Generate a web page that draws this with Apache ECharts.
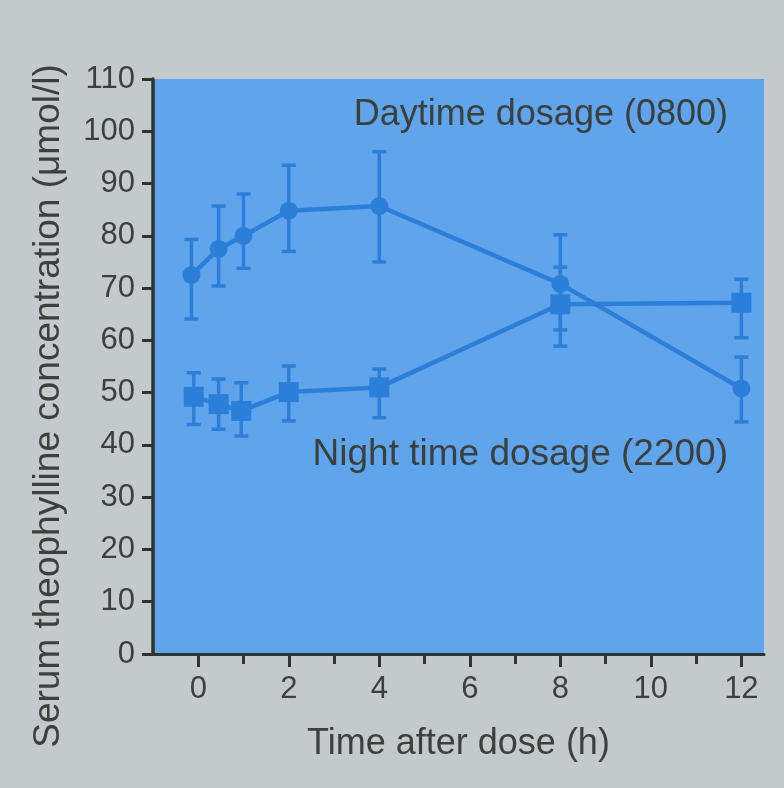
<!DOCTYPE html>
<html>
<head>
<meta charset="utf-8">
<script src="https://cdn.jsdelivr.net/npm/echarts@6/dist/echarts.min.js"></script>
<style>
  html, body { margin: 0; padding: 0; background: #c4cacb; }
  #chart { width: 784px; height: 788px; }
</style>
</head>
<body>
<div id="chart"></div>
<script>
// x tick values
var xMajorTicks = [0, 2, 4, 6, 8, 10, 12];
var xMinorTicks = [1, 3, 5, 7, 9, 11];

// daytime dosage (0800)
var dayTime = [-0.15, 0.45, 1, 2, 4, 8, 12];
var dayMean = [72.5, 77.5, 80, 84.8, 85.7, 70.8, 50.8];
var dayLow  = [64.1, 70.4, 73.8, 77, 75, 62, 44.4];
var dayHigh = [79.3, 85.7, 88, 93.5, 96.1, 80.2, 56.8];

// night time dosage (2200)
var nightTime = [-0.1, 0.45, 0.95, 2, 4, 8, 12];
var nightMean = [49.2, 47.8, 46.5, 50.1, 51, 66.9, 67.2];
var nightLow  = [43.9, 43, 41.7, 44.6, 45.2, 58.9, 60.5];
var nightHigh = [53.8, 52.6, 51.9, 55.1, 54.5, 74, 71.7];

var blue = '#2b7fd8';
var ink = '#3b403c';
var axisInk = '#2f3430';
var font = "'Liberation Sans', Arial, sans-serif";

function pairs(xs, ys) {
    return xs.map(function (x, i) { return [x, ys[i]]; });
}
function bars(xs, lo, hi) {
    return xs.map(function (x, i) { return [x, lo[i], hi[i]]; });
}

function errorBar(params, api) {
    var top = api.coord([api.value(0), api.value(2)]);
    var bot = api.coord([api.value(0), api.value(1)]);
    var w = 7;
    var st = {stroke: blue, lineWidth: 3.5};
    return {
        type: 'group',
        children: [
            {type: 'line', shape: {x1: top[0], y1: top[1], x2: bot[0], y2: bot[1]}, style: st},
            {type: 'line', shape: {x1: top[0] - w, y1: top[1], x2: top[0] + w, y2: top[1]}, style: st},
            {type: 'line', shape: {x1: bot[0] - w, y1: bot[1], x2: bot[0] + w, y2: bot[1]}, style: st}
        ]
    };
}

var chart = echarts.init(document.getElementById('chart'));
chart.setOption({
    backgroundColor: '#c4cacb',
    animation: false,
    grid: {
        left: 153, right: 20, top: 79, bottom: 134,
        show: true, backgroundColor: '#60a4ec', borderWidth: 0
    },
    xAxis: [{
        type: 'value', min: -1, max: 12.5,
        splitLine: {show: false},
        axisLine: {onZero: false, lineStyle: {color: axisInk, width: 3}},
        axisTick: {customValues: xMajorTicks, length: 13, lineStyle: {color: axisInk, width: 3}},
        axisLabel: {customValues: xMajorTicks, margin: 20, fontSize: 31, color: ink, fontFamily: font},
        name: 'Time after dose (h)',
        nameLocation: 'middle',
        nameGap: 72,
        nameTextStyle: {fontSize: 36, color: ink, fontFamily: font}
    }, {
        type: 'value', min: -1, max: 12.5, position: 'bottom',
        splitLine: {show: false},
        axisLine: {show: false, onZero: false},
        axisTick: {customValues: xMinorTicks, length: 10, lineStyle: {color: axisInk, width: 3}},
        axisLabel: {show: false}
    }],
    yAxis: {
        type: 'value', min: 0, max: 110, interval: 10,
        splitLine: {show: false},
        axisLine: {onZero: false, lineStyle: {color: axisInk, width: 3.5}},
        axisTick: {length: 11, lineStyle: {color: axisInk, width: 3}},
        axisLabel: {margin: 18, fontSize: 31, color: ink, fontFamily: font}
    },
    graphic: [
        {type: 'text', x: 49, y: 406, rotation: Math.PI / 2,
         style: {text: 'Serum theophylline concentration (μmol/l)', fontSize: 37, fontFamily: font,
                 fill: ink, align: 'center', verticalAlign: 'middle'}},
        {type: 'text', x: 728, y: 115, z: 10,
         style: {text: 'Daytime dosage (0800)', fontSize: 36, fontFamily: font,
                 fill: ink, align: 'right', verticalAlign: 'middle'}},
        {type: 'text', x: 728, y: 455, z: 10,
         style: {text: 'Night time dosage (2200)', fontSize: 37, fontFamily: font,
                 fill: ink, align: 'right', verticalAlign: 'middle'}}
    ],
    series: [
        {type: 'custom', renderItem: errorBar, data: bars(dayTime, dayLow, dayHigh),
         encode: {x: 0, y: [1, 2]}, z: 3},
        {type: 'custom', renderItem: errorBar, data: bars(nightTime, nightLow, nightHigh),
         encode: {x: 0, y: [1, 2]}, z: 3},
        {type: 'line', data: pairs(dayTime, dayMean), symbol: 'circle', symbolSize: 18,
         itemStyle: {color: blue}, lineStyle: {color: blue, width: 4.5}, z: 4},
        {type: 'line', data: pairs(nightTime, nightMean), symbol: 'rect', symbolSize: 20,
         itemStyle: {color: blue}, lineStyle: {color: blue, width: 4.5}, z: 4}
    ]
});
</script>
</body>
</html>
